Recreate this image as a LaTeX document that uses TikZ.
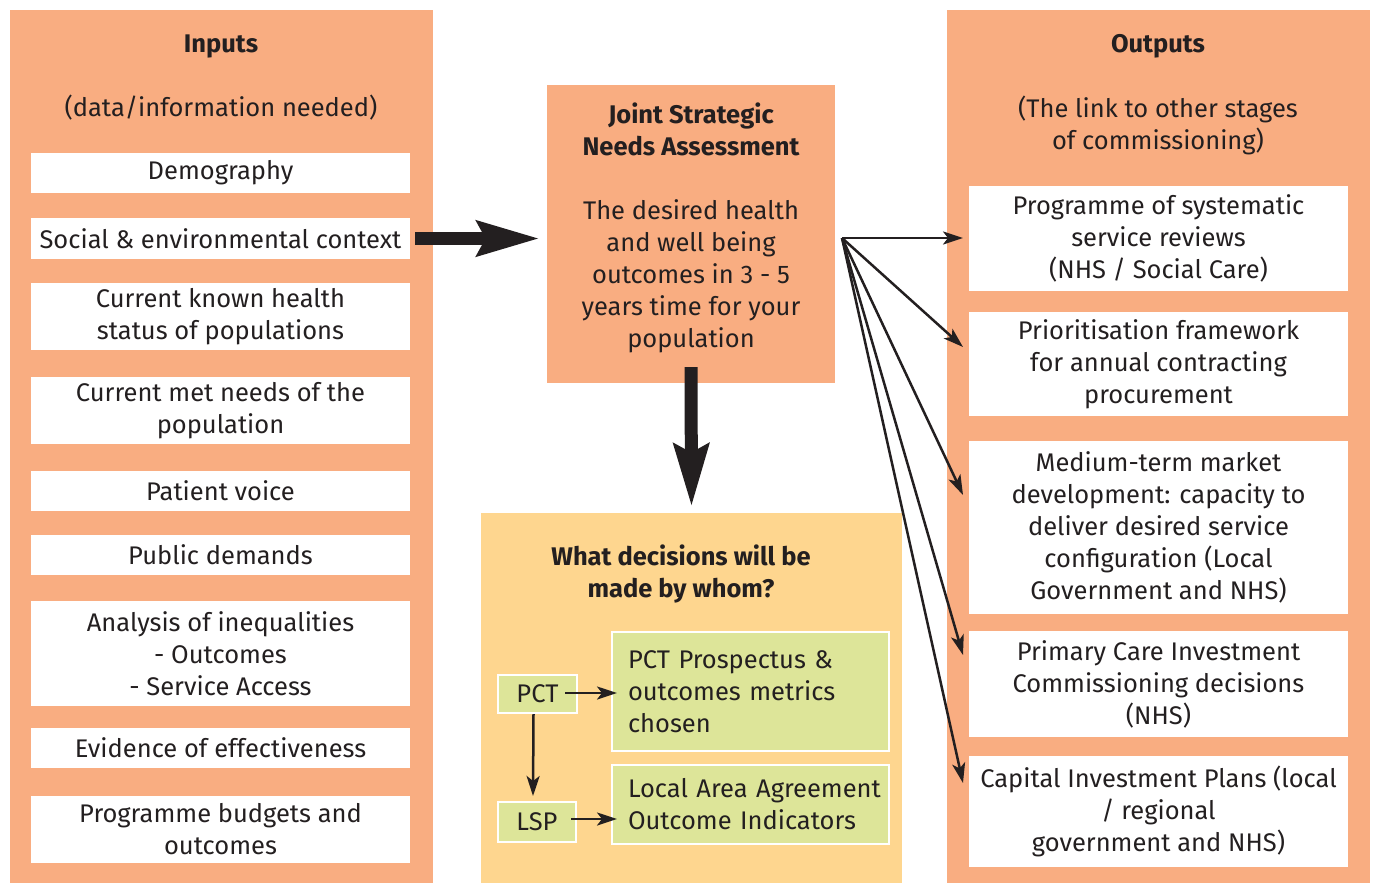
\documentclass[tikz,border=0pt]{standalone}
\usepackage{fontspec}
\setmainfont{Fira Sans}
\usetikzlibrary{arrows.meta,calc}
\definecolor{salmon}{HTML}{F9AD81}
\definecolor{sand}{HTML}{FED68F}
\definecolor{lime}{HTML}{DDE599}
\definecolor{ink}{HTML}{231F20}
\newcommand\bodyfont{\fontsize{25.5}{32}\selectfont}
\begin{document}
\begin{tikzpicture}[x=1pt,y=-1pt,
  every node/.style={text=ink,font=\bodyfont},
  panel/.style={fill=salmon,inner sep=0pt,minimum width=423pt,minimum height=873pt},
  wbox/.style={fill=white,inner sep=0pt,minimum width=379pt,align=center},
  gbox/.style={fill=lime,draw=white,line width=2pt,inner sep=0pt},
  gtext/.style={gbox,minimum width=277pt,text width=245pt,inner xsep=16pt,align=left},
  title/.style={align=center,font=\bodyfont\bfseries},
  fat/.style={line width=13pt,draw=ink,-{Stealth[length=62pt,width=34pt,inset=8pt]}},
  thin/.style={line width=2.5pt,draw=ink,-{Stealth[length=20pt,width=13pt,inset=5pt]}}]
\useasboundingbox (0,0) rectangle (1376,883);

% side panels
\node[panel] (inpanel) at (221.5,446.5) {};
\node[panel] (outpanel) at (1158.5,446.5) {};
\node[title] (intitle) at (221,46) {Inputs};
\node[align=center] (insub) at (221,108) {(data/information needed)};
\node[title] (outtitle) at (1158,46) {Outputs};
\node[align=center] (outsub) at (1158,125) {(The link to other stages\\of commissioning)};

% inputs
\node[wbox,minimum height=40pt] (in1) at (220.5,173) {Demography};
\node[wbox,minimum height=41pt] (in2) at (220.5,238.5) {Social \& environmental context};
\node[wbox,minimum height=67pt] (in3) at (220.5,316.5) {Current known health\\status of populations};
\node[wbox,minimum height=67pt] (in4) at (220.5,410.5) {Current met needs of the\\population};
\node[wbox,minimum height=40pt] (in5) at (220.5,491) {Patient voice};
\node[wbox,minimum height=40pt] (in6) at (220.5,555) {Public demands};
\node[wbox,minimum height=105pt] (in7) at (220.5,653.5) {Analysis of inequalities\\- Outcomes\\- Service Access};
\node[wbox,minimum height=40pt] (in8) at (220.5,748) {Evidence of effectiveness};
\node[wbox,minimum height=67pt] (in9) at (220.5,829.5) {Programme budgets and\\outcomes};

% outputs
\node[wbox,minimum height=105pt] (out1) at (1158.5,238.5) {Programme of systematic\\service reviews\\(NHS / Social Care)};
\node[wbox,minimum height=104pt] (out2) at (1158.5,364) {Prioritisation framework\\for annual contracting\\procurement};
\node[wbox,minimum height=173pt] (out3) at (1158.5,527.5) {Medium-term market\\development: capacity to\\deliver desired service\\configuration (Local\\Government and NHS)};
\node[wbox,minimum height=106pt] (out4) at (1158.5,684) {Primary Care Investment\\Commissioning decisions\\(NHS)};
\node[wbox,minimum height=111pt] (out5) at (1158.5,811.5) {Capital Investment Plans (local\\/ regional\\government and NHS)};

% central assessment
\node[fill=salmon,inner sep=0pt,minimum width=288pt,minimum height=298pt] (jsna) at (691,234) {};
\node[align=center] (jsnatext) at (691,228) {{\bfseries Joint Strategic}\\{\bfseries Needs Assessment}\\[32pt]The desired health\\and well being\\outcomes in 3 - 5\\years time for your\\population};

% decisions panel
\node[fill=sand,inner sep=0pt,minimum width=421pt,minimum height=370pt] (dec) at (691.5,698) {};
\node[title] (dectitle) at (681,574) {What decisions will be\\made by whom?};
\node[gbox,minimum width=79pt,minimum height=38pt] (pct) at (537.5,694) {PCT};
\node[gbox,minimum width=78pt,minimum height=40pt] (lsp) at (537,822) {LSP};
\node[gtext,minimum height=119pt] (g1) at (750.5,691.5) {PCT Prospectus \&\\outcomes metrics\\chosen};
\node[gtext,minimum height=79pt] (g2) at (750.5,804.5) {\mbox{Local Area Agreement}\\\mbox{Outcome Indicators}};

% thick arrows
\draw[fat] ([xshift=5pt]in2.east) -- ($(jsna.west |- in2)+(-7,0)$);
\draw[fat] ([yshift=16pt]jsna.south) -- ([yshift=6pt]dec.north);

% fan of connectors to the outputs
\coordinate (fan) at (842,238);
\coordinate (t1) at (963,238);
\coordinate (t2) at (963,347);
\coordinate (t3) at (963,495);
\coordinate (t4) at (963,655);
\coordinate (t5) at (963,783);
\foreach \t in {t1,t2,t3,t4,t5} \draw[thin] (fan) -- (\t);

% decision connectors
\draw[thin] ($(pct.east)+(-13,-1)$) -- ($(g1.west |- pct)+(6,-1)$);
\draw[thin] ($(lsp.east)+(-6,-3)$) -- ($(g2.west |- lsp)+(6,-3)$);
\draw[thin] ($(pct.south)+(-4,0)$) -- ($(lsp.north)+(-4,-5)$);
\end{tikzpicture}
\end{document}
